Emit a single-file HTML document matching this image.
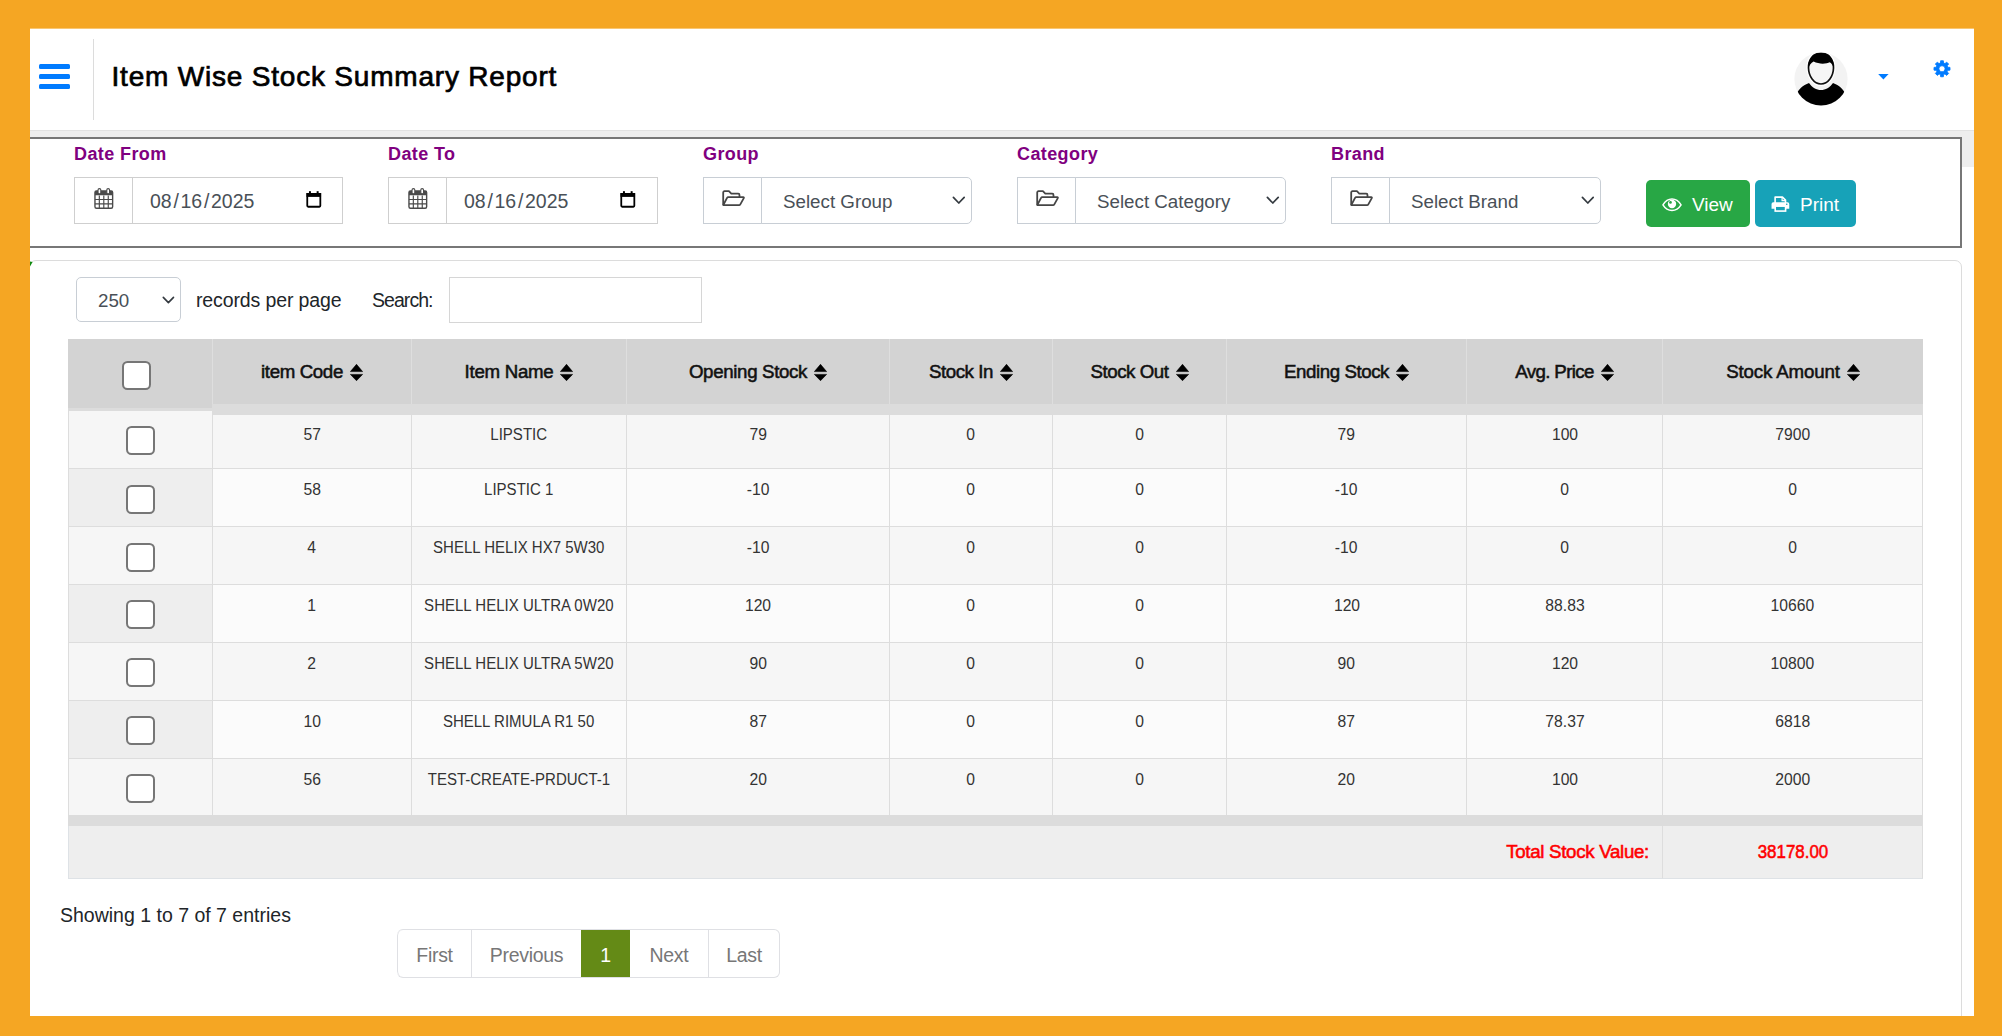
<!DOCTYPE html>
<html lang="en">
<head>
<meta charset="utf-8">
<title>Item Wise Stock Summary Report</title>
<style>
*{box-sizing:border-box;margin:0;padding:0}
html,body{width:2002px;height:1036px;overflow:hidden}
body{background:#f5a623;font-family:"Liberation Sans",sans-serif;color:#212529;position:relative}
.page{position:absolute;left:30px;top:29px;width:1944px;height:987px;background:#fff;overflow:hidden}
/* inner canvas uses absolute screenshot coordinates */
.cv{position:absolute;left:-30px;top:-29px;width:2002px;height:1036px}
.abs{position:absolute}
.t{position:absolute;white-space:nowrap;line-height:1}

/* header */
.bar{position:absolute;left:39px;width:31px;height:5px;border-radius:1.5px;background:#007bff}
.vdiv{position:absolute;left:93px;top:39px;width:1px;height:81px;background:#dcdcdc}
.title{left:111.5px;top:63px;font-size:28px;font-weight:normal;color:#000;-webkit-text-stroke:.7px #000;letter-spacing:.8px}

/* gray strip + filter box */
.strip{position:absolute;left:30px;top:130px;width:1944px;height:37px;background:#eee;border-top:1px solid #e2e2e2}
.filter{position:absolute;left:10px;top:137px;width:1952px;height:111px;background:#fff;border:2px solid #777}
.lbl{font-size:18px;font-weight:bold;color:#800080;letter-spacing:.4px}
.grp{position:absolute;top:177px;height:47px;width:269px;display:flex}
.grp .add{width:59px;height:47px;border:1px solid #cfcfcf;background:#fff;position:relative;flex:none}
.grp .inp{flex:1;height:47px;border:1px solid #cfcfcf;border-left:0;position:relative;background:#fff}
.grp.sel .inp{border-color:#c8ced5;border-radius:0 5px 5px 0;border-left:1px solid #c8ced5;margin-left:-1px}
.grp.sel .add{border-color:#c8ced5}
.ftxt{position:absolute;white-space:nowrap;line-height:1;font-size:19.5px;color:#495057}
.btn{position:absolute;top:180px;height:47px;border-radius:5px;color:#fff}
.btn span{position:absolute;white-space:nowrap;line-height:1;font-size:19px}
.st2{font-size:18.75px}
.dt i{font-style:normal;margin:0 1.7px}

/* card + datatable */
.card{position:absolute;left:29px;top:260px;width:1933px;height:800px;border:1px solid #dcdcdc;border-radius:7px;background:#fff}
.lensel{position:absolute;left:76px;top:277px;width:105px;height:45px;border:1px solid #c8ced5;border-radius:5px;background:#fff}
.search{position:absolute;left:449px;top:277px;width:253px;height:46px;border:1px solid #d6d6d6;background:#fff}
.ctl{font-size:19.5px;color:#212529}
table.dt{position:absolute;left:68px;top:339px;width:1855px;border-collapse:separate;border-spacing:0;table-layout:fixed;font-size:16.8px;color:#333}
table.dt th,table.dt td{text-align:center;vertical-align:top;padding:0;overflow:hidden;white-space:nowrap}
table.dt thead th{height:65px;background:#d3d3d3;border-left:1px solid #dedede;color:#111;font-weight:normal;font-size:18.7px;-webkit-text-stroke:.55px #111}
table.dt thead th:first-child{border-left:1px solid #d3d3d3}
table.dt thead th .h{display:inline-block;margin-top:24px;line-height:1;white-space:nowrap}
table.dt thead th .ht{letter-spacing:-.45px}
table.dt thead tr.sp th{height:11px;background:#dcdcdc;border-left:0}
table.dt tbody td{height:58px;border-left:1px solid #ddd;border-top:1px solid #ddd;background:#f6f6f6}
table.dt tbody tr.ev td{background:#fbfbfb}
table.dt tbody tr.ev td:first-child{background:#eee}
table.dt tbody tr:first-child td{height:53px;border-top:0}
table.dt tbody tr:last-child td{height:57px}
table.dt tbody td:last-child,table.dt tfoot td:last-child{border-right:1px solid #ddd}
table.dt tbody td .c{display:inline-block;margin-top:12.6px;line-height:1;transform:scaleX(.935)}
table.dt tbody tr:first-child td .c{margin-top:12.4px}
table.dt tbody td .c.n{letter-spacing:0;transform:scaleX(.895)}
table.dt tfoot tr.sp td{height:11px;background:#dcdcdc}
table.dt tfoot tr.tot td{height:53px;background:#eee;border-bottom:1px solid #dee2e6;color:#f00;font-size:18.7px;-webkit-text-stroke:.55px #f00}
table.dt tfoot tr.tot td:first-child{border-left:1px solid #dee2e6;text-align:right;padding-right:13px}
table.dt tfoot tr.tot td:last-child{border-left:1px solid #ddd}
table.dt tfoot .c{display:inline-block;margin-top:17px;line-height:1;letter-spacing:-.3px}
#tot{letter-spacing:0;transform:scaleX(.905)}
.cb{position:absolute;width:29px;height:29px;border:2px solid #767676;border-radius:5.5px;background:#fff}
.sort{display:inline-block;width:13px;height:17px;margin-left:7px;vertical-align:-2.5px}
.fc-head{position:absolute;left:68px;top:339px;width:144px;height:69px;background:#d3d3d3}
.fc-sp{position:absolute;left:68px;top:408px;width:144px;height:3px;background:#dcdcdc}
.fc-r1{position:absolute;left:69px;top:411px;width:143px;height:6px;background:#f6f6f6}
.info{left:60px;top:905.5px;font-size:19.5px;color:#212529}
.pag{position:absolute;left:397px;top:929px;height:49px;display:flex;border:1px solid #dfe0e4;border-left:0;border-radius:6px;background:#fff;overflow:hidden}
.pag a{display:block;height:47px;border-left:1px solid #dfe0e4;color:#777;font-size:19.5px;line-height:1;padding-top:15.5px;letter-spacing:-.3px;text-align:center;text-decoration:none;white-space:nowrap}
.pag a:first-child{border-radius:6px 0 0 6px}
.pag a.act{background:#648a16;color:#fff;border-left:0;margin:-1px 0;height:49px;padding-top:16.5px}
.pag a.act + a{border-left:0}
</style>
</head>
<body>
<div class="abs" style="left:30px;top:28px;width:1944px;height:1px;background:#f9c672"></div>
<div class="page"><div class="cv">

<!-- ================= HEADER ================= -->
<div class="bar" style="top:64px"></div>
<div class="bar" style="top:74px"></div>
<div class="bar" style="top:84px"></div>
<div class="vdiv"></div>
<h1 class="t title" id="title">Item Wise Stock Summary Report</h1>

<!-- avatar -->
<svg class="abs" style="left:1794px;top:52px" width="54" height="54" viewBox="0 0 54 54">
  <defs><clipPath id="avc"><circle cx="27" cy="27" r="26.6"/></clipPath></defs>
  <circle cx="27" cy="27" r="26.6" fill="#f3f3f3"/>
  <g clip-path="url(#avc)">
    <path d="M2,54 L2,44 C4,37 9,33.5 15,31 C18,35.5 22.5,38 27,38 C31.5,38 36,35.5 39,31 C45,33.5 50,37 52,44 L52,54Z" fill="#000"/>
    <path d="M27,1.2 C35,1.2 39.7,7.5 39.5,16 C39.3,24 34.3,32 27,32 C19.7,32 14.7,24 14.5,16 C14.3,7.5 19,1.2 27,1.2Z" fill="#f6f6f6" stroke="#fff" stroke-width="4.2"/>
    <path d="M27,1.2 C35,1.2 39.7,7.5 39.5,16 C39.3,24 34.3,32 27,32 C19.7,32 14.7,24 14.5,16 C14.3,7.5 19,1.2 27,1.2Z" fill="#f6f6f6" stroke="#111" stroke-width="1.7"/>
    <path d="M27,1 C35.8,1 40.4,7.6 40,17.5 C39.2,13.5 37.5,11.2 35.8,10.2 C32.5,12 25,12.4 19.6,9.6 C17,11 15,13.5 14,17.5 C13.6,7.6 18.2,1 27,1Z" fill="#000"/>
  </g>
</svg>
<!-- caret -->
<svg class="abs" style="left:1878px;top:74px" width="11" height="6" viewBox="0 0 11 6"><path d="M0.2,0 L10.6,0 L5.4,5.6Z" fill="#007bff"/></svg>
<!-- gear -->
<svg class="abs" style="left:1932px;top:59px" width="20" height="20" viewBox="-10.7 -10.45 21.4 21.4"><path fill="#007bff" fill-rule="evenodd" stroke="#007bff" stroke-width=".9" stroke-linejoin="round" d="M-1.65,-6.18 L-1.47,-8.57 L1.47,-8.57 L1.65,-6.18 L3.21,-5.54 L5.02,-7.10 L7.10,-5.02 L5.54,-3.21 L6.18,-1.65 L8.57,-1.47 L8.57,1.47 L6.18,1.65 L5.54,3.21 L7.10,5.02 L5.02,7.10 L3.21,5.54 L1.65,6.18 L1.47,8.57 L-1.47,8.57 L-1.65,6.18 L-3.21,5.54 L-5.02,7.10 L-7.10,5.02 L-5.54,3.21 L-6.18,1.65 L-8.57,1.47 L-8.57,-1.47 L-6.18,-1.65 L-5.54,-3.21 L-7.10,-5.02 L-5.02,-7.10 L-3.21,-5.54Z M3.3,0 A3.3,3.3 0 1,0 -3.3,0 A3.3,3.3 0 1,0 3.3,0Z"/></svg>


<!-- ================= FILTER ================= -->
<div class="strip"></div>
<div class="filter"></div>

<label class="t lbl" id="lb0" style="left:74px;top:145px">Date From</label>
<label class="t lbl" id="lb1" style="left:388px;top:145px">Date To</label>
<label class="t lbl" id="lb2" style="left:703px;top:145px">Group</label>
<label class="t lbl" id="lb3" style="left:1017px;top:145px">Category</label>
<label class="t lbl" id="lb4" style="left:1331px;top:145px">Brand</label>
<div class="grp" style="left:74px"><div class="add"><svg class="abs" style="left:19px;top:10px" width="19.6" height="21.4" viewBox="0 0 21 23"><rect x="1" y="3.2" width="19" height="18.6" rx="1.6" fill="#fff" stroke="#4a4a4a" stroke-width="1.5"/><rect x="1" y="3.2" width="19" height="4.6" fill="#4a4a4a"/><path d="M1,12.4H20M1,17H20M5.7,8V21.5M10.5,8V21.5M15.3,8V21.5" stroke="#4a4a4a" stroke-width="1.25" fill="none"/><rect x="4.3" y=".7" width="3" height="5.6" rx="1.5" fill="#fff" stroke="#4a4a4a" stroke-width="1.2"/><rect x="13.7" y=".7" width="3" height="5.6" rx="1.5" fill="#fff" stroke="#4a4a4a" stroke-width="1.2"/></svg></div><div class="inp"><span class="ftxt dt" id="dt0" style="left:17px;top:14px"><span>08</span><i>/</i><span>16</span><i>/</i><span>2025</span></span><svg class="abs" style="left:173px;top:13px" width="15.6" height="17" viewBox="0 0 17 19"><path d="M1.2,3.2H15.8V16.6a1,1 0 0 1-1,1H2.2a1,1 0 0 1-1-1Z" fill="none" stroke="#000" stroke-width="2"/><rect x=".4" y="2.4" width="16.2" height="4.2" fill="#000"/><rect x="3.1" y=".2" width="2.2" height="3" fill="#000"/><rect x="11.7" y=".2" width="2.2" height="3" fill="#000"/></svg></div></div>
<div class="grp" style="left:388px;width:270px"><div class="add"><svg class="abs" style="left:19px;top:10px" width="19.6" height="21.4" viewBox="0 0 21 23"><rect x="1" y="3.2" width="19" height="18.6" rx="1.6" fill="#fff" stroke="#4a4a4a" stroke-width="1.5"/><rect x="1" y="3.2" width="19" height="4.6" fill="#4a4a4a"/><path d="M1,12.4H20M1,17H20M5.7,8V21.5M10.5,8V21.5M15.3,8V21.5" stroke="#4a4a4a" stroke-width="1.25" fill="none"/><rect x="4.3" y=".7" width="3" height="5.6" rx="1.5" fill="#fff" stroke="#4a4a4a" stroke-width="1.2"/><rect x="13.7" y=".7" width="3" height="5.6" rx="1.5" fill="#fff" stroke="#4a4a4a" stroke-width="1.2"/></svg></div><div class="inp"><span class="ftxt dt" id="dt1" style="left:17px;top:14px"><span>08</span><i>/</i><span>16</span><i>/</i><span>2025</span></span><svg class="abs" style="left:173px;top:13px" width="15.6" height="17" viewBox="0 0 17 19"><path d="M1.2,3.2H15.8V16.6a1,1 0 0 1-1,1H2.2a1,1 0 0 1-1-1Z" fill="none" stroke="#000" stroke-width="2"/><rect x=".4" y="2.4" width="16.2" height="4.2" fill="#000"/><rect x="3.1" y=".2" width="2.2" height="3" fill="#000"/><rect x="11.7" y=".2" width="2.2" height="3" fill="#000"/></svg></div></div>
<div class="grp sel" style="left:703px"><div class="add"><svg class="abs" style="left:17px;top:10.8px" width="25" height="18.4" viewBox="0 0 26 20"><path d="M1.8,17.2V3.8a1.4,1.4 0 0 1 1.4-1.4H8l2.6,2.7h7.6a1.3,1.3 0 0 1 1.3,1.3V8.6" fill="none" stroke="#454545" stroke-width="1.95" stroke-linejoin="round"/><path d="M1.9,17.4L6,9.6a1.6,1.6 0 0 1 1.3-.8H23.6a.7,.7 0 0 1 .6,1.1l-3.8,6.8a1.6,1.6 0 0 1-1.4.8H2.6a.8,.8 0 0 1-.7-.6Z" fill="none" stroke="#454545" stroke-width="1.95" stroke-linejoin="round"/></svg></div><div class="inp"><span class="ftxt st2" id="st0" style="left:21px;top:15px">Select Group</span><svg class="abs" style="right:5.2px;top:18px" width="13.6" height="9" viewBox="0 0 15 10"><path d="M1.5,1.6L7.5,7.8L13.5,1.6" fill="none" stroke="#343a40" stroke-width="1.9" stroke-linecap="round" stroke-linejoin="round"/></svg></div></div>
<div class="grp sel" style="left:1017px"><div class="add"><svg class="abs" style="left:17px;top:10.8px" width="25" height="18.4" viewBox="0 0 26 20"><path d="M1.8,17.2V3.8a1.4,1.4 0 0 1 1.4-1.4H8l2.6,2.7h7.6a1.3,1.3 0 0 1 1.3,1.3V8.6" fill="none" stroke="#454545" stroke-width="1.95" stroke-linejoin="round"/><path d="M1.9,17.4L6,9.6a1.6,1.6 0 0 1 1.3-.8H23.6a.7,.7 0 0 1 .6,1.1l-3.8,6.8a1.6,1.6 0 0 1-1.4.8H2.6a.8,.8 0 0 1-.7-.6Z" fill="none" stroke="#454545" stroke-width="1.95" stroke-linejoin="round"/></svg></div><div class="inp"><span class="ftxt st2" id="st1" style="left:21px;top:15px">Select Category</span><svg class="abs" style="right:5.2px;top:18px" width="13.6" height="9" viewBox="0 0 15 10"><path d="M1.5,1.6L7.5,7.8L13.5,1.6" fill="none" stroke="#343a40" stroke-width="1.9" stroke-linecap="round" stroke-linejoin="round"/></svg></div></div>
<div class="grp sel" style="left:1331px;width:270px"><div class="add"><svg class="abs" style="left:17px;top:10.8px" width="25" height="18.4" viewBox="0 0 26 20"><path d="M1.8,17.2V3.8a1.4,1.4 0 0 1 1.4-1.4H8l2.6,2.7h7.6a1.3,1.3 0 0 1 1.3,1.3V8.6" fill="none" stroke="#454545" stroke-width="1.95" stroke-linejoin="round"/><path d="M1.9,17.4L6,9.6a1.6,1.6 0 0 1 1.3-.8H23.6a.7,.7 0 0 1 .6,1.1l-3.8,6.8a1.6,1.6 0 0 1-1.4.8H2.6a.8,.8 0 0 1-.7-.6Z" fill="none" stroke="#454545" stroke-width="1.95" stroke-linejoin="round"/></svg></div><div class="inp"><span class="ftxt st2" id="st2" style="left:21px;top:15px">Select Brand</span><svg class="abs" style="right:5.2px;top:18px" width="13.6" height="9" viewBox="0 0 15 10"><path d="M1.5,1.6L7.5,7.8L13.5,1.6" fill="none" stroke="#343a40" stroke-width="1.9" stroke-linecap="round" stroke-linejoin="round"/></svg></div></div>
<div class="btn" style="left:1646px;width:104px;background:#28a745"><svg class="abs" style="left:16px;top:18.4px" width="20" height="13.6" viewBox="0 0 22 15"><path d="M1,7.6C3.6,3.4 7,1.2 11,1.2S18.4,3.4 21,7.6C18.4,11.8 15,13.8 11,13.8S3.6,11.8 1,7.6Z" fill="none" stroke="#fff" stroke-width="1.7" stroke-linejoin="round"/><circle cx="11" cy="6.6" r="4.6" fill="#fff"/><circle cx="9.3" cy="4.9" r="1.5" fill="#28a745"/></svg><span id="bv" style="left:46px;top:15px">View</span></div>
<div class="btn" style="left:1755px;width:101px;background:#17a2b8"><svg class="abs" style="left:16px;top:16.4px" width="18.8" height="16.2" viewBox="0 0 21 18"><path d="M4.6,8V1.2h8.2l3.4,3.3V8" fill="none" stroke="#fff" stroke-width="1.8" stroke-linejoin="round"/><path d="M12.4,1.2V5h3.8" fill="none" stroke="#fff" stroke-width="1.4"/><path d="M2.6,6.9H18.4a2,2 0 0 1 2,2V14.2H16.6V11H4.4v3.2H.6V8.9a2,2 0 0 1 2-2Z" fill="#fff"/><rect x="4.7" y="11.3" width="11.6" height="5.5" fill="none" stroke="#fff" stroke-width="1.8"/><circle cx="17.6" cy="9.2" r=".9" fill="#17a2b8"/></svg><span id="bp" style="left:45px;top:15px">Print</span></div>

<div class="card"></div>
<svg class="abs" style="left:30px;top:261px" width="4" height="6" viewBox="0 0 4 6"><path d="M0,.4L2.6,1L0,5.6Z" fill="#0f8a0f"/></svg>
<div class="lensel"><span class="ftxt st2" id="len" style="left:21px;top:14px">250</span><svg class="abs" style="left:85px;top:18px" width="12.8" height="8.5" viewBox="0 0 15 10"><path d="M1.5,1.6L7.5,7.8L13.5,1.6" fill="none" stroke="#343a40" stroke-width="1.9" stroke-linecap="round" stroke-linejoin="round"/></svg></div>
<span class="t ctl" id="rpp" style="left:196px;top:291px;letter-spacing:-.12px">records per page</span>
<span class="t ctl" id="srch" style="left:372px;top:291px;letter-spacing:-.95px">Search:</span>
<div class="search"></div>
<table class="dt"><colgroup><col style="width:144px"><col style="width:199px"><col style="width:215px"><col style="width:263px"><col style="width:163px"><col style="width:174px"><col style="width:240px"><col style="width:196px"><col style="width:261px"></colgroup>
<thead><tr><th></th><th><span class="h"><span class="ht" id="h0" style="letter-spacing:-0.37px">item Code</span><svg class="sort" viewBox="0 0 13 17"><path d="M6.5,.3L12.6,7.6H.4Z M6.5,16.7L12.6,10.4H.4Z" fill="#000" stroke="#000" stroke-width=".6" stroke-linejoin="round"/></svg></span></th><th><span class="h"><span class="ht" id="h1" style="letter-spacing:-0.28px">Item Name</span><svg class="sort" viewBox="0 0 13 17"><path d="M6.5,.3L12.6,7.6H.4Z M6.5,16.7L12.6,10.4H.4Z" fill="#000" stroke="#000" stroke-width=".6" stroke-linejoin="round"/></svg></span></th><th><span class="h"><span class="ht" id="h2" style="letter-spacing:-0.34px">Opening Stock</span><svg class="sort" viewBox="0 0 13 17"><path d="M6.5,.3L12.6,7.6H.4Z M6.5,16.7L12.6,10.4H.4Z" fill="#000" stroke="#000" stroke-width=".6" stroke-linejoin="round"/></svg></span></th><th><span class="h"><span class="ht" id="h3" style="letter-spacing:-0.45px">Stock In</span><svg class="sort" viewBox="0 0 13 17"><path d="M6.5,.3L12.6,7.6H.4Z M6.5,16.7L12.6,10.4H.4Z" fill="#000" stroke="#000" stroke-width=".6" stroke-linejoin="round"/></svg></span></th><th><span class="h"><span class="ht" id="h4" style="letter-spacing:-0.45px">Stock Out</span><svg class="sort" viewBox="0 0 13 17"><path d="M6.5,.3L12.6,7.6H.4Z M6.5,16.7L12.6,10.4H.4Z" fill="#000" stroke="#000" stroke-width=".6" stroke-linejoin="round"/></svg></span></th><th><span class="h"><span class="ht" id="h5" style="letter-spacing:-0.42px">Ending Stock</span><svg class="sort" viewBox="0 0 13 17"><path d="M6.5,.3L12.6,7.6H.4Z M6.5,16.7L12.6,10.4H.4Z" fill="#000" stroke="#000" stroke-width=".6" stroke-linejoin="round"/></svg></span></th><th><span class="h"><span class="ht" id="h6" style="letter-spacing:-0.65px">Avg. Price</span><svg class="sort" viewBox="0 0 13 17"><path d="M6.5,.3L12.6,7.6H.4Z M6.5,16.7L12.6,10.4H.4Z" fill="#000" stroke="#000" stroke-width=".6" stroke-linejoin="round"/></svg></span></th><th><span class="h"><span class="ht" id="h7" style="letter-spacing:-0.13px">Stock Amount</span><svg class="sort" viewBox="0 0 13 17"><path d="M6.5,.3L12.6,7.6H.4Z M6.5,16.7L12.6,10.4H.4Z" fill="#000" stroke="#000" stroke-width=".6" stroke-linejoin="round"/></svg></span></th></tr>
<tr class="sp"><th colspan="9"></th></tr></thead><tbody>
<tr><td></td><td><span class="c">57</span></td><td><span class="c n">LIPSTIC</span></td><td><span class="c">79</span></td><td><span class="c">0</span></td><td><span class="c">0</span></td><td><span class="c">79</span></td><td><span class="c">100</span></td><td><span class="c">7900</span></td></tr>
<tr class="ev"><td></td><td><span class="c">58</span></td><td><span class="c n">LIPSTIC 1</span></td><td><span class="c">-10</span></td><td><span class="c">0</span></td><td><span class="c">0</span></td><td><span class="c">-10</span></td><td><span class="c">0</span></td><td><span class="c">0</span></td></tr>
<tr><td></td><td><span class="c">4</span></td><td><span class="c n">SHELL HELIX HX7 5W30</span></td><td><span class="c">-10</span></td><td><span class="c">0</span></td><td><span class="c">0</span></td><td><span class="c">-10</span></td><td><span class="c">0</span></td><td><span class="c">0</span></td></tr>
<tr class="ev"><td></td><td><span class="c">1</span></td><td><span class="c n">SHELL HELIX ULTRA 0W20</span></td><td><span class="c">120</span></td><td><span class="c">0</span></td><td><span class="c">0</span></td><td><span class="c">120</span></td><td><span class="c">88.83</span></td><td><span class="c">10660</span></td></tr>
<tr><td></td><td><span class="c">2</span></td><td><span class="c n">SHELL HELIX ULTRA 5W20</span></td><td><span class="c">90</span></td><td><span class="c">0</span></td><td><span class="c">0</span></td><td><span class="c">90</span></td><td><span class="c">120</span></td><td><span class="c">10800</span></td></tr>
<tr class="ev"><td></td><td><span class="c">10</span></td><td><span class="c n">SHELL RIMULA R1 50</span></td><td><span class="c">87</span></td><td><span class="c">0</span></td><td><span class="c">0</span></td><td><span class="c">87</span></td><td><span class="c">78.37</span></td><td><span class="c">6818</span></td></tr>
<tr><td></td><td><span class="c">56</span></td><td><span class="c n">TEST-CREATE-PRDUCT-1</span></td><td><span class="c">20</span></td><td><span class="c">0</span></td><td><span class="c">0</span></td><td><span class="c">20</span></td><td><span class="c">100</span></td><td><span class="c">2000</span></td></tr>
</tbody><tfoot><tr class="sp"><td colspan="9"></td></tr>
<tr class="tot"><td colspan="8"><span class="c" id="tsv">Total Stock Value:</span></td><td><span class="c" id="tot">38178.00</span></td></tr></tfoot></table>
<div class="fc-head"></div><div class="fc-sp"></div><div class="fc-r1"></div>
<div class="cb" style="left:122px;top:361px"></div>
<div class="cb" style="left:126px;top:426px"></div>
<div class="cb" style="left:126px;top:485px"></div>
<div class="cb" style="left:126px;top:542.5px"></div>
<div class="cb" style="left:126px;top:600px"></div>
<div class="cb" style="left:126px;top:658px"></div>
<div class="cb" style="left:126px;top:716px"></div>
<div class="cb" style="left:126px;top:774px"></div>
<div class="t info" id="info">Showing 1 to 7 of 7 entries</div>
<div class="pag"><a style="width:74px" href="#">First</a><a style="width:110px" href="#">Previous</a><a class="act" style="width:49px" href="#">1</a><a style="width:78px" href="#">Next</a><a style="width:71px" href="#">Last</a></div>

</div></div>
</body>
</html>
